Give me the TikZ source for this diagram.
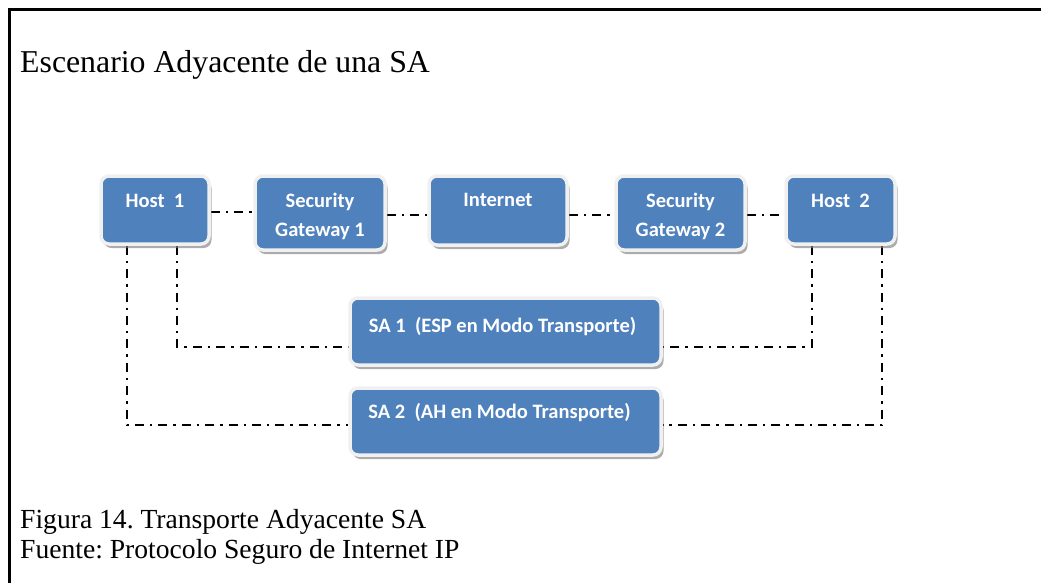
\documentclass[tikz,border=0pt]{standalone}
\usepackage{fontspec}
\setmainfont{Liberation Serif}
\newfontfamily\boxfont{Carlito}
\usetikzlibrary{shadows,backgrounds}
\frenchspacing
\definecolor{boxblue}{HTML}{4F81BD}
\definecolor{boxrim}{HTML}{F0F0F0}
\tikzset{
  netbox/.style={rectangle, rounded corners=8pt, fill=boxblue, draw=boxrim,
    line width=3.5pt, inner sep=0pt,
    drop shadow={shadow xshift=2.5pt, shadow yshift=-4pt, fill=black!50, opacity=0.65}},
  boxtext/.style={anchor=base, text=white, align=center, inner sep=0pt,
    font=\boxfont\bfseries\fontsize{20.5}{29}\selectfont},
  conn/.style={line width=2.4pt, black, dash pattern=on 9pt off 6pt on 2.4pt off 6pt},
  serifbig/.style={anchor=base west, inner sep=0pt, font=\fontsize{31.8}{36}\selectfont},
  serifcap/.style={anchor=base west, inner sep=0pt, align=left, font=\fontsize{27.6}{30}\selectfont}
}
\begin{document}
\begin{tikzpicture}[x=1pt, y=-1pt]
\useasboundingbox (0,0) rectangle (1041,582);

% frame
\draw[line width=2.5pt] (9.5,600) -- (9.5,9.5) -- (1060,9.5);

% title and caption
\node[serifbig] (title) at (20,72) {Escenario Adyacente de una SA};
\node[serifcap] (cap1) at (20,528) {Figura 14. Transporte Adyacente SA};
\node[serifcap] (cap2) at (20,558) {Fuente: Protocolo Seguro de Internet IP};

% network boxes
\node[netbox, minimum width=108pt, minimum height=68pt] (h1)   at (155,210)   {};
\node[netbox, minimum width=130pt, minimum height=74pt] (sg1)  at (320,213)   {};
\node[netbox, minimum width=138pt, minimum height=69pt] (inet) at (498,210.5) {};
\node[netbox, minimum width=129pt, minimum height=74pt] (sg2)  at (680.5,213) {};
\node[netbox, minimum width=109pt, minimum height=68pt] (h2)   at (840.5,210) {};
\node[netbox, minimum width=311pt, minimum height=67pt] (sa1)  at (505.5,331.5) {};
\node[netbox, minimum width=311pt, minimum height=67pt] (sa2)  at (505.5,421.5) {};

% box texts (base anchor = last line)
\node[boxtext] (h1t)   at (155,207)   {Host~~1};
\node[boxtext] (sg1t)  at (320,236)   {Security\\Gateway 1};
\node[boxtext] (inett) at (498,206)   {Internet};
\node[boxtext] (sg2t)  at (680.5,236) {Security\\Gateway 2};
\node[boxtext] (h2t)   at (840.5,207) {Host~~2};
\node[boxtext] (sa1t)  at (502.5,332) {SA 1~~(ESP en Modo Transporte)};
\node[boxtext] (sa2t)  at (499.5,418) {SA 2~~(AH en Modo Transporte)};

% dash-dot links
\begin{scope}[on background layer]
  \draw[conn] ([yshift=-2pt]h1.east)  -- ([yshift=-2pt]h1.east -| sg1.west);
  \draw[conn] ([yshift=-2pt]sg1.west -| sg1.east) -- ([yshift=-2pt]sg1.west -| inet.west);
  \draw[conn] ([yshift=-2pt]sg1.west -| inet.east) -- ([yshift=-2pt]sg1.west -| sg2.west);
  \draw[conn] ([yshift=-2pt]sg1.west -| sg2.east) -- ([yshift=-2pt]sg1.west -| h2.west);

  \draw[conn] ([xshift=22pt]h1.south)  |- ([yshift=-15.5pt]sa1.west);
  \draw[conn] ([xshift=-28pt]h1.south) |- ([yshift=-3.5pt]sa2.west);
  \draw[conn] ([xshift=-28.5pt]h2.south) |- ([yshift=-15.5pt]sa1.east);
  \draw[conn] ([xshift=41.5pt]h2.south)  |- ([yshift=-3.5pt]sa2.east);
\end{scope}
\end{tikzpicture}
\end{document}
